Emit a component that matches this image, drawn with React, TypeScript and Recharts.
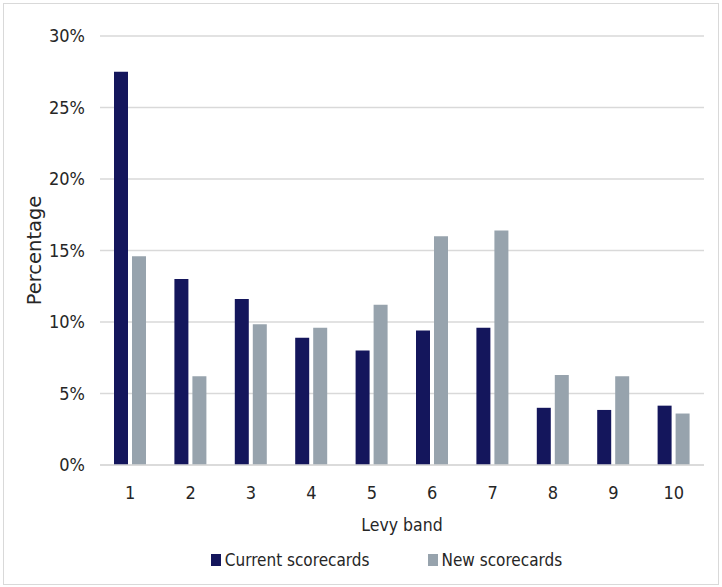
import React from "react";
import { BarChart, Bar, XAxis, YAxis, CartesianGrid, Legend } from "recharts";

const bands = ["1", "2", "3", "4", "5", "6", "7", "8", "9", "10"];
const currentScorecards = [27.5, 13.0, 11.6, 8.9, 8.0, 9.4, 9.6, 4.0, 3.85, 4.15];
const newScorecards = [14.6, 6.2, 9.85, 9.6, 11.2, 16.0, 16.4, 6.3, 6.2, 3.6];
const yTicks = [0, 5, 10, 15, 20, 25, 30];

const NAVY = "#14165c";
const GREY = "#97a3ad";
const FONT = "'DejaVu Sans Condensed', 'DejaVu Sans', sans-serif";
const TEXT = "#262626";

const data = bands.map((band, i) => ({
  band,
  current: currentScorecards[i],
  next: newScorecards[i],
}));

function renderLegend() {
  const items = [
    { label: "Current scorecards", color: NAVY },
    { label: "New scorecards", color: GREY },
  ];
  return (
    <div
      style={{
        display: "flex",
        justifyContent: "center",
        gap: 58,
        paddingLeft: 69,
        fontFamily: FONT,
        fontSize: 17,
        color: TEXT,
        height: 24,
        alignItems: "center",
      }}
    >
      {items.map((it) => (
        <div key={it.label} style={{ display: "flex", alignItems: "center" }}>
          <span style={{ width: 10, height: 12, background: it.color, marginRight: 4, display: "inline-block" }} />
          <span>{it.label}</span>
        </div>
      ))}
    </div>
  );
}

export default function App() {
  return (
    <div style={{ position: "absolute", left: 0, top: 0, width: 722, height: 587, background: "#fff" }}>
      <div
        style={{
          position: "absolute",
          left: 3,
          top: 3,
          width: 716,
          height: 582,
          border: "1.5px solid #d9d9d9",
          boxSizing: "border-box",
        }}
      />
      <BarChart
        width={722}
        height={587}
        data={data}
        margin={{ top: 36, right: 18, left: 0, bottom: 15 }}
        barSize={14}
        barGap={4}
      >
        <CartesianGrid vertical={false} stroke="#d9d9d9" strokeWidth={1.5} />
        <XAxis
          dataKey="band"
          height={83}
          tickLine={false}
          axisLine={{ stroke: "#d9d9d9", strokeWidth: 1.5 }}
          tickSize={0}
          tickMargin={21}
          tick={{ fill: TEXT, fontSize: 18, fontFamily: FONT }}
          label={{
            value: "Levy band",
            position: "insideTop",
            offset: 54,
            style: { fill: TEXT, fontSize: 17.5, fontFamily: FONT },
          }}
        />
        <YAxis
          width={100}
          domain={[0, 30]}
          ticks={yTicks}
          tickFormatter={(v) => `${v}%`}
          axisLine={false}
          tickLine={false}
          tickSize={0}
          tickMargin={15}
          tick={{ fill: TEXT, fontSize: 18, fontFamily: FONT }}
          label={{
            value: "Percentage",
            angle: -90,
            position: "insideLeft",
            offset: 34,
            style: { fill: TEXT, fontSize: 19.5, fontFamily: "'DejaVu Sans', sans-serif", textAnchor: "middle" },
          }}
        />
        <Legend verticalAlign="bottom" content={renderLegend} />
        <Bar dataKey="current" name="Current scorecards" fill={NAVY} isAnimationActive={false} />
        <Bar dataKey="next" name="New scorecards" fill={GREY} isAnimationActive={false} />
      </BarChart>
    </div>
  );
}
